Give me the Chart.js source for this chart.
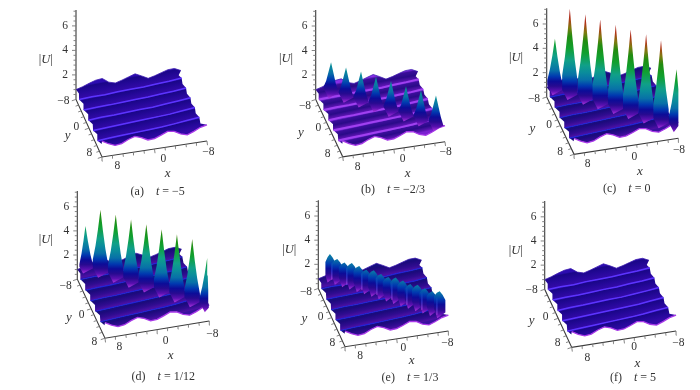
<!DOCTYPE html>
<html>
<head>
<meta charset="utf-8">
<title>|U| surfaces</title>
<script src="https://cdn.jsdelivr.net/npm/chart.js@4"></script>
<style>
  html, body { margin: 0; padding: 0; background: #fff; }
  #wrap { position: relative; width: 700px; height: 390px; overflow: hidden; }
  canvas { position: absolute; filter: blur(0.35px); }
</style>
</head>
<body>
<div id="wrap"></div>
<script>
// values, physical units (x, y, |U|)
const stationX = [8, 6, 4, 2, 0, -2, -4, -6, -8];
const edgeX = [8, 7, 6, 5, 4, 3, 2, 1, 0, -1, -2, -3, -4, -5, -6, -7, -8];

// the thin bright valleys running across the sheet, y at each stationX
const valley1Y = [-6.1, -6.3, -6.3, -6.6, -6.7, -6.8, -7.1, -7.3, -7.6];
const valley2Y = [-3.2, -3.4, -3.5, -3.7, -3.9, -4.0, -4.3, -4.5, -4.87];
const valley3Y = [-0.35, -0.6, -0.7, -0.9, -1.1, -1.2, -1.5, -1.8, -2.15];
const valley4Y = [2.5, 2.3, 2.1, 1.9, 1.7, 1.5, 1.3, 0.9, 0.58];
const valley5Y = [5.35, 5.1, 4.9, 4.7, 4.5, 4.3, 4.0, 3.6, 3.3];
const valleyU = 0.55;

// notches in the sheet's side edges, one per band
const leftNotchY = [-7, -4.2, -1.3, 1.5, 4.3, 7];
const rightNotchY = [-7.8, -5.4, -2.7, 0, 2.7, 5.6];

// the two cut edges of the sheet, |U| at each edgeX
const backEdgeU = [0.8, 0.95, 1.15, 1.32, 1.38, 1.0, 0.85, 1.0, 1.18, 1.35, 1.1, 0.82, 0.95, 1.12, 1.28, 1.3, 1.05];
const frontEdgeU = [1.3, 1.0, 0.78, 0.85, 1.1, 1.28, 1.1, 0.82, 0.85, 1.05, 1.28, 1.2, 0.9, 0.75, 0.95, 1.2, 1.32];

// rows of peaks, t = -2/3
const rowBX = [5.97, 4.1, 2.23, 0.36, -1.51, -3.38, -5.25, -7.12];
const rowBY = [-6.6, -4.8, -3, -1.2, 0.6, 2.4, 4.2, 6];
const rowBU = [3.3, 3.25, 3.3, 3.25, 3.3, 3.25, 3.3, 3.25];
// t = 0
const rowCX = [7, 5.2, 3.3, 1.5, -0.4, -2.2, -4.1, -5.9, -7.8];
const rowCY = [-7, -5.15, -3.3, -1.5, 0.35, 2.2, 4, 5.85, 7.7];
const rowCU = [5, 7.85, 7.8, 7.75, 7.7, 7.7, 7.7, 7.6, 5.6];
// t = 1/12
const rowDX = [6.75, 4.9, 3.05, 1.2, -0.65, -2.5, -4.35, -6.2, -8];
const rowDY = [-8, -6.3, -4.43, -2.56, -0.69, 1.18, 3.05, 4.92, 6.79];
const rowDU = [4.3, 6, 6, 6, 6, 6, 6, 6, 4.85];
// t = 1/3, low scalloped crest
const rowEX = [6.2, 5.3, 4.4, 3.5, 2.6, 1.7, 0.8, -0.1, -1, -1.9, -2.8, -3.7, -4.6, -5.5, -6.4, -7.3];
const rowEY = [-8, -7.1, -6.2, -5.3, -4.4, -3.5, -2.6, -1.7, -0.8, 0.1, 1, 1.9, 2.8, 3.7, 4.6, 5.5];
const rowEU = [2.7, 2.5, 2.4, 2.55, 2.5, 2.4, 2.55, 2.45, 2.4, 2.55, 2.5, 2.4, 2.55, 2.45, 2.4, 2.6];
// bright creases between the scallops of that crest
const creaseEX = [5.9, 4.06, 2.22, 0.38, -1.46, -3.3, -5.14, -6.98];
const creaseEY = [-8, -6.13, -4.26, -2.39, -0.52, 1.35, 3.22, 5.09];

// cross section of one peak: offset along the row, share of peak height
const peakOffset = [-0.93, -0.6, -0.3, 0, 0.3, 0.6, 0.93];
const tallShare = [0.28, 0.48, 0.72, 1, 0.72, 0.48, 0.28];
const lowShare = [0.33, 0.5, 0.75, 1, 0.75, 0.5, 0.33];
const crestOffset = [-0.7, -0.35, 0, 0.35, 0.7];
const crestShare = [0.78, 0.92, 1, 0.92, 0.78];
const footU = 0.55;
const skirtU = 1;

// axis ticks
const uTicks = [0.4, 0.8, 1.2, 1.6, 2, 2.4, 2.8, 3.2, 3.6, 4, 4.4, 4.8, 5.2, 5.6, 6, 6.4, 6.8, 7.2];
const uTickLabels = [2, 4, 6];
const xyTicks = [8, 6.4, 4.8, 3.2, 1.6, 0, -1.6, -3.2, -4.8, -6.4, -8];
const xyTickLabels = ['8', '0', '−8'];
const yTickLabels = ['−8', '0', '8'];

// height colouring, same for all panels
const heightStops = [
  [0.4, '#a030d8'], [0.7, '#5a10b0'], [1.1, '#280a90'], [1.5, '#0c0c98'], [1.9, '#0038b0'],
  [2.4, '#0870a8'], [3, '#0a8c9c'], [3.6, '#10a088'], [4.6, '#10a030'], [5.6, '#208c10'], [6.3, '#807a10'],
  [7, '#b03818'], [7.6, '#a81c18']
];

const darkBand = [[0, '#2c0cb0'], [0.12, '#1a0688'], [0.55, '#26089a'], [1, '#340aa8']];
const stripedBand = [[0, '#8a30e8'], [0.16, '#3a0e9a'], [0.5, '#2a0a88'], [0.85, '#5a14b0'], [1, '#7a20d0']];
const roundBand = [[0, '#141080'], [0.2, '#1c0a7c'], [0.6, '#300c90'], [0.9, '#4c10a4'], [1, '#3a10a0']];

const panels = [
  { left: 0, top: 0, ox: 76, oy: 99.4, ax: 6.56, ay: -1, bx: 1.625, by: 3.6, uz: 12.25,
    parts: [['(a)    ', false], ['t', true], [' = −5', false]], capX: 157.7, capY: 191.5,
    uLabel: [45.7, 59.3], yLabel: [67.7, 136], xLabel: [167.7, 174],
    xPos: [[117.3, 166], [163.3, 159.3], [208.3, 151.7]], yPos: [[63.3, 100.7], [76.3, 126.7], [89.3, 153.3]],
    band: darkBand, line: '#5c34ff', lineW: 1.5 },
  { left: 233, top: 0, ox: 315.7, oy: 99.5, ax: 6.39, ay: -0.94, bx: 1.69, by: 3.58, uz: 12.25,
    parts: [['(b)    ', false], ['t', true], [' = −2/3', false]], capX: 393, capY: 190,
    uLabel: [286, 59], yLabel: [301, 133], xLabel: [407.7, 173.3],
    xPos: [[357.7, 166.7], [402.7, 159], [445.7, 152.3]], yPos: [[305, 105.7], [318.3, 128.3], [327.7, 154.3]],
    band: stripedBand, line: '#a040f0', lineW: 2,
    rowX: rowBX, rowY: rowBY, rowU: rowBU, offset: peakOffset, share: lowShare },
  { left: 466, top: 0, ox: 546.7, oy: 97, ax: 6.52, ay: -1, bx: 1.71, by: 3.58, uz: 12.17,
    parts: [['(c)    ', false], ['t', true], [' = 0', false]], capX: 626.7, capY: 189,
    uLabel: [516, 57.7], yLabel: [532.3, 129], xLabel: [640, 171.7],
    xPos: [[587.7, 164.3], [634.3, 156.7], [679, 150]], yPos: [[534, 99], [549, 125], [560, 151.7]],
    band: roundBand, line: '#2222d8', lineW: 1.1,
    rowX: rowCX, rowY: rowCY, rowU: rowCU, offset: peakOffset, share: tallShare },
  { left: 0, top: 188, ox: 77.3, oy: 279.2, ax: 6.52, ay: -1.08, bx: 1.73, by: 3.69, uz: 12.08,
    parts: [['(d)    ', false], ['t', true], [' = 1/12', false]], capX: 163.3, capY: 377.3,
    uLabel: [45.7, 240], yLabel: [69, 317.7], xLabel: [170.7, 356],
    xPos: [[119.3, 347.3], [165.7, 341], [212.3, 334]], yPos: [[65.7, 286], [81.7, 315], [94.3, 341.7]],
    band: roundBand, line: '#2222d8', lineW: 1.1,
    rowX: rowDX, rowY: rowDY, rowU: rowDU, offset: peakOffset, share: tallShare },
  { left: 233, top: 188, ox: 318.3, oy: 288.5, ax: 6.46, ay: -0.98, bx: 1.67, by: 3.64, uz: 12.08,
    parts: [['(e)    ', false], ['t', true], [' = 1/3', false]], capX: 410, capY: 377.7,
    uLabel: [289.3, 249.3], yLabel: [304.3, 319], xLabel: [411.7, 360.7],
    xPos: [[360, 355.7], [403.3, 347.7], [447.3, 342.7]], yPos: [[306, 291.7], [320.7, 317.3], [332.3, 342.7]],
    band: roundBand, line: '#2222d8', lineW: 1.1,
    rowX: rowEX, rowY: rowEY, rowU: rowEU, offset: crestOffset, share: crestShare,
    creaseX: creaseEX, creaseY: creaseEY },
  { left: 466, top: 188, ox: 544.7, oy: 289.3, ax: 6.52, ay: -1.02, bx: 1.69, by: 3.63, uz: 12.08,
    parts: [['(f)    ', false], ['t', true], [' = 5', false]], capX: 633, capY: 378.3,
    uLabel: [515.7, 250.7], yLabel: [531.7, 320.7], xLabel: [637.3, 364],
    xPos: [[587.3, 357.7], [634, 347.3], [678.3, 342.7]], yPos: [[531.7, 290], [545.7, 317.3], [557.7, 342.7]],
    band: darkBand, line: '#5c34ff', lineW: 1.5 }
];

const W = 234, H = 202;
const serif = '"Liberation Serif", "DejaVu Serif", serif';

// oblique view of the (x, y, |U|) box, in the panel's own chart units
function view(p, x, y, u) {
  const a = 8 - Math.min(8, Math.max(-8, x));
  const b = Math.min(8, Math.max(-8, y)) + 8;
  return {
    x: p.ox - p.left + a * p.ax + b * p.bx,
    y: p.oy - p.top + a * p.ay + b * p.by - u * p.uz
  };
}

function sheetLines(p) {
  const back = edgeX.map((x, i) => view(p, x, -8, backEdgeU[i]));
  const front = edgeX.map((x, i) => view(p, x, 8, frontEdgeU[i]));
  const valleys = [valley1Y, valley2Y, valley3Y, valley4Y, valley5Y].map(ys =>
    stationX.map((x, i) => view(p, x, ys[i], valleyU)));
  return [back, ...valleys, front];
}

function bandFill(upper, lower, stops) {
  return function (c) {
    const chart = c.chart;
    if (!chart.chartArea) return 'transparent';
    const sx = chart.scales.x, sy = chart.scales.y;
    const px = pt => ({ x: sx.getPixelForValue(pt.x), y: sy.getPixelForValue(pt.y) });
    const s = px(upper[0]), e = px(upper[upper.length - 1]);
    const p0 = px(upper[Math.floor(upper.length / 2)]);
    const q = px(lower[Math.floor(lower.length / 2)]);
    const len = Math.hypot(e.x - s.x, e.y - s.y);
    const nx = -(e.y - s.y) / len, ny = (e.x - s.x) / len;
    const d = (q.x - p0.x) * nx + (q.y - p0.y) * ny;
    const g = chart.ctx.createLinearGradient(p0.x, p0.y, p0.x + nx * d, p0.y + ny * d);
    stops.forEach(st => g.addColorStop(st[0], st[1]));
    return g;
  };
}

function peakFill(p, x0, y0) {
  return function (c) {
    const chart = c.chart;
    if (!chart.chartArea) return 'transparent';
    const sy = chart.scales.y;
    const v0 = view(p, x0, y0, 0.4), v1 = view(p, x0, y0, 7.6);
    const g = chart.ctx.createLinearGradient(0, sy.getPixelForValue(v0.y), 0, sy.getPixelForValue(v1.y));
    heightStops.forEach(st => g.addColorStop((st[0] - 0.4) / 7.2, st[1]));
    return g;
  };
}

function axisLines(p) {
  const gap = { x: NaN, y: NaN };
  const o = view(p, 8, -8, 0), corner = view(p, 8, 8, 0), end = view(p, -8, 8, 0);
  const frame = [{ x: o.x, y: o.y - 7.3 * p.uz }, o, corner, end];
  const ticks = [];
  uTicks.forEach(u => {
    const q = view(p, 8, -8, u);
    const len = uTickLabels.includes(u) ? 4 : 2.5;
    ticks.push({ x: q.x - len, y: q.y }, q, gap);
  });
  xyTicks.forEach(v => {
    const len = (v === 8 || v === 0 || v === -8) ? 1.4 : 1;
    const qy = view(p, 8, v, 0);
    ticks.push({ x: qy.x - 3 * len, y: qy.y + 1 * len }, qy, gap);
    const qx = view(p, v, 8, 0);
    ticks.push({ x: qx.x + 0.4 * len, y: qx.y + 3 * len }, qx, gap);
  });
  return [
    { data: frame, showLine: true, fill: false, borderColor: '#3a3a3a', borderWidth: 1.1, pointRadius: 0, tension: 0 },
    { data: ticks, showLine: true, fill: false, borderColor: '#777', borderWidth: 0.9, pointRadius: 0, tension: 0, spanGaps: false }
  ];
}

function buildDatasets(p) {
  const sets = axisLines(p);
  const lines = sheetLines(p);
  for (let k = 0; k < lines.length - 1; k++) {
    const upper = lines[k], lower = lines[k + 1];
    const rightCap = view(p, -7.6, rightNotchY[k], valleyU + 0.2);
    const leftCap = view(p, 7.8, leftNotchY[k], valleyU + 0.2);
    sets.push({
      data: upper.concat([rightCap], lower.slice().reverse(), [leftCap]),
      showLine: true, fill: 'shape', pointRadius: 0, borderWidth: 0, tension: 0,
      borderColor: 'transparent', backgroundColor: bandFill(upper, lower, p.band)
    });
  }
  for (let k = 1; k < lines.length - 1; k++) {
    sets.push({ data: lines[k], showLine: true, fill: false, pointRadius: 0, tension: 0, borderColor: p.line, borderWidth: p.lineW });
  }
  sets.push({ data: lines[lines.length - 1], showLine: true, fill: false, pointRadius: 0, tension: 0, borderColor: '#a838e8', borderWidth: 1.3 });
  sets.push({ data: lines[0], showLine: true, fill: false, pointRadius: 0, tension: 0, borderColor: '#3c1cb0', borderWidth: 0.8 });
  if (p.rowX) {
    p.rowX.forEach((x0, i) => {
      const y0 = p.rowY[i], peak = p.rowU[i];
      const n = p.offset.length - 1;
      const pts = p.offset.map((d, j) => view(p, x0 + d, y0 - d, Math.max(footU, peak * p.share[j])));
      pts.push(view(p, x0 + p.offset[n], y0 - p.offset[n], skirtU));
      pts.push(view(p, x0 + 0.5, y0 + 0.5, footU));
      pts.push(view(p, x0 + p.offset[0], y0 - p.offset[0], skirtU));
      sets.push({
        data: pts, showLine: true, fill: 'shape', pointRadius: 0, borderWidth: 0, tension: 0,
        borderColor: 'transparent', backgroundColor: peakFill(p, x0, y0)
      });
    });
  }
  if (p.creaseX) {
    p.creaseX.forEach((x0, i) => {
      const y0 = p.creaseY[i];
      sets.push({
        data: [view(p, x0, y0, footU), view(p, x0, y0, 1.2), view(p, x0, y0, 2)],
        showLine: true, fill: false, pointRadius: 0, tension: 0, borderWidth: 0.8,
        borderColor: c => {
          if (!c.chart.chartArea) return 'transparent';
          const sy = c.chart.scales.y;
          const g = c.chart.ctx.createLinearGradient(0, sy.getPixelForValue(view(p, x0, y0, footU).y), 0, sy.getPixelForValue(view(p, x0, y0, 2).y));
          g.addColorStop(0, '#c850e8');
          g.addColorStop(0.5, 'rgba(70,90,255,0.8)');
          g.addColorStop(1, 'rgba(60,140,220,0.1)');
          return g;
        }
      });
    });
  }
  // library paints the first dataset last
  return sets.reverse();
}

function drawParts(ctx, parts, cx, cy, size) {
  let total = 0;
  parts.forEach(pt => {
    ctx.font = (pt[1] ? 'italic ' : '') + size + 'px ' + serif;
    total += ctx.measureText(pt[0]).width;
  });
  let x = cx - total / 2;
  ctx.textAlign = 'left';
  parts.forEach(pt => {
    ctx.font = (pt[1] ? 'italic ' : '') + size + 'px ' + serif;
    ctx.fillText(pt[0], x, cy);
    x += ctx.measureText(pt[0]).width;
  });
}

const labelPlugin = {
  id: 'axisText',
  afterDraw(chart) {
    const p = chart.options.plugins.axisText.panel;
    const ctx = chart.ctx, sx = chart.scales.x, sy = chart.scales.y;
    const local = q => ({ x: q[0] - p.left, y: q[1] - p.top });
    ctx.save();
    ctx.fillStyle = '#333';
    ctx.textAlign = 'center';
    ctx.textBaseline = 'middle';
    ctx.font = '11.5px ' + serif;
    uTickLabels.forEach(u => {
      const q = view(p, 8, -8, u);
      ctx.fillText(String(u), sx.getPixelForValue(q.x) - 11, sy.getPixelForValue(q.y));
    });
    xyTickLabels.forEach((txt, i) => { const q = local(p.xPos[i]); ctx.fillText(txt, q.x, q.y); });
    yTickLabels.forEach((txt, i) => { const q = local(p.yPos[i]); ctx.fillText(txt, q.x, q.y); });
    const lu = local(p.uLabel), ly = local(p.yLabel), lx = local(p.xLabel);
    drawParts(ctx, [['|', false], ['U', true], ['|', false]], lu.x, lu.y, 12.5);
    drawParts(ctx, [['y', true]], ly.x, ly.y, 13);
    drawParts(ctx, [['x', true]], lx.x, lx.y, 13);
    drawParts(ctx, p.parts, p.capX - p.left, p.capY - p.top, 12);
    ctx.restore();
  }
};

const wrap = document.getElementById('wrap');
panels.forEach(p => {
  const cv = document.createElement('canvas');
  cv.width = W; cv.height = H;
  cv.style.left = p.left + 'px';
  cv.style.top = p.top + 'px';
  wrap.appendChild(cv);
  new Chart(cv.getContext('2d'), {
    type: 'scatter',
    data: { datasets: buildDatasets(p) },
    options: {
      responsive: false,
      animation: false,
      layout: { padding: 0 },
      scales: {
        x: { type: 'linear', display: false, min: 0, max: W },
        y: { type: 'linear', display: false, min: 0, max: H, reverse: true }
      },
      plugins: {
        legend: { display: false },
        tooltip: { enabled: false },
        axisText: { panel: p }
      }
    },
    plugins: [labelPlugin]
  });
});
</script>
</body>
</html>
